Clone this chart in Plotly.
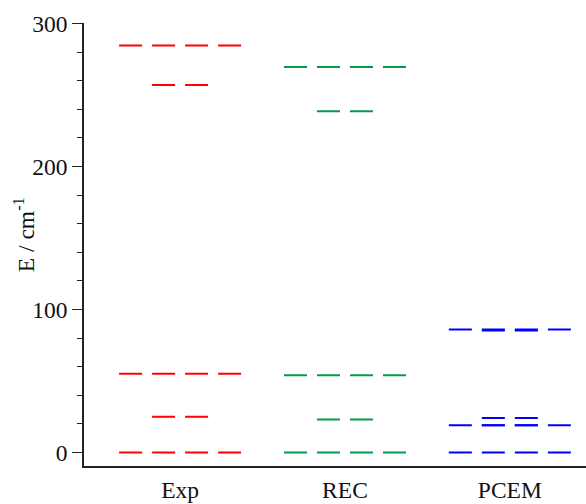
import plotly.graph_objects as go

methods = ["Exp", "REC", "PCEM"]
colors = ["#ff0000", "#009a50", "#0000ff"]

exp_full = [0, 55, 284.5]
exp_inner = [25, 257]
rec_full = [0, 54, 269.5]
rec_inner = [23, 238.5]
pcem_full = [0, 19, 86]
pcem_inner = [19, 24, 85.3]

full_sets = [exp_full, rec_full, pcem_full]
inner_sets = [exp_inner, rec_inner, pcem_inner]

FULL_HW = 0.37
INNER_HW = 0.17
DASH = "23px,10px"

fig = go.Figure()
for i, (name, col) in enumerate(zip(methods, colors)):
    xc = i + 1
    for hw, levels in ((FULL_HW, full_sets[i]), (INNER_HW, inner_sets[i])):
        for e in levels:
            fig.add_trace(go.Scatter(
                x=[xc - hw, xc + hw], y=[e, e], mode="lines",
                line=dict(color=col, width=2, dash=DASH),
                showlegend=False, hoverinfo="skip"))

font = dict(family="Liberation Serif, Times New Roman, serif", size=23.5, color="#111")
fig.update_layout(
    width=586, height=504,
    margin=dict(l=84, r=0, t=23, b=38),
    plot_bgcolor="white", paper_bgcolor="white",
    font=font,
    showlegend=False,
)
fig.update_xaxes(
    range=[0.417, 3.462], automargin=False,
    tickmode="array", tickvals=[1, 2, 3], ticktext=methods,
    showline=True, linecolor="#222", linewidth=1.5,
    ticks="", showgrid=False, zeroline=False,
    ticklabelstandoff=2,
)
fig.update_yaxes(
    range=[-9.5, 300.3], automargin=False,
    tickmode="linear", tick0=0, dtick=100,
    ticks="outside", ticklen=10, tickwidth=1.3, tickcolor="#222",
    minor=dict(dtick=20, ticks="outside", ticklen=5, tickwidth=1.3, tickcolor="#222"),
    showline=True, linecolor="#222", linewidth=1.5,
    showgrid=False, zeroline=False,
)
fig.add_annotation(
    text="E / cm<sup>-1</sup>", textangle=-90, showarrow=False,
    xref="paper", yref="paper", x=(24 - 84) / 502, y=0.521,
    xanchor="center", yanchor="middle", font=font,
)
fig.write_html("out.html")
